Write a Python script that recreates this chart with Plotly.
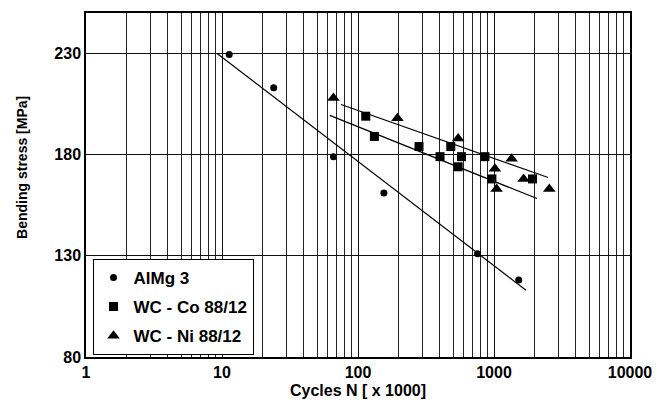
import plotly.graph_objects as go

# --- data ---
almg_n = [11.3, 24, 66, 155, 757, 1520]
almg_s = [229.5, 213, 179, 161, 131, 118]

co_n = [114, 132, 281, 401, 481, 545, 577, 857, 965, 1920]
co_s = [199, 189, 184, 179, 184, 174, 179, 179, 168, 168]

ni_n = [66, 195, 545, 1016, 1045, 1348, 1650, 2550]
ni_s = [208, 198, 188, 173, 163, 178, 168, 163]

# fitted lines (end points)
almg_fit_n = [9.2, 1720]
almg_fit_s = [230, 113]
co_fit_n = [62, 2070]
co_fit_s = [199.4, 158.3]
ni_fit_n = [75, 2500]
ni_fit_s = [204.8, 168.7]

x_ticks = [1, 10, 100, 1000, 10000]
y_ticks = [80, 130, 180, 230]

FONT = "Liberation Sans, Arial, sans-serif"

fig = go.Figure()

line_style = dict(color="black", width=1.2)
for fx, fy in [(almg_fit_n, almg_fit_s), (co_fit_n, co_fit_s), (ni_fit_n, ni_fit_s)]:
    fig.add_trace(go.Scatter(x=fx, y=fy, mode="lines", line=line_style,
                             showlegend=False, hoverinfo="skip"))

fig.add_trace(go.Scatter(x=almg_n, y=almg_s, mode="markers", name="AlMg 3",
                         legendgroup="a",
                         marker=dict(symbol="circle", size=7, color="black")))
fig.add_trace(go.Scatter(x=co_n, y=co_s, mode="markers", name="WC - Co 88/12",
                         legendgroup="b",
                         marker=dict(symbol="square", size=9, color="black")))
fig.add_trace(go.Scatter(x=ni_n, y=ni_s, mode="markers", name="WC - Ni 88/12",
                         legendgroup="c",
                         marker=dict(symbol="triangle-up", size=11, color="black")))

fig.update_layout(
    width=664, height=412,
    margin=dict(l=86, r=34, t=13, b=55),
    paper_bgcolor="white", plot_bgcolor="white",
    font=dict(family=FONT, color="black", size=16, weight="bold"),
    showlegend=True,
    legend=dict(x=0.012, y=0.285, xanchor="left", yanchor="top",
                bgcolor="white", bordercolor="black", borderwidth=1,
                font=dict(size=17, family=FONT, weight="bold"),
                tracegroupgap=4, itemwidth=30),
    xaxis=dict(type="log", range=[0, 4],
               tickvals=x_ticks, ticktext=[str(v) for v in x_ticks],
               showgrid=True, gridcolor="#111", gridwidth=1,
               minor=dict(dtick="D1", showgrid=True, gridcolor="#222", gridwidth=1, ticks=""),
               showline=True, linecolor="black", linewidth=1.5, mirror=True,
               ticks="", zeroline=False,
               title=dict(text="Cycles N [ x 1000]", standoff=5,
                          font=dict(size=16, family=FONT, weight="bold")),
               tickfont=dict(size=16, family=FONT, weight="bold")),
    yaxis=dict(range=[80, 250], tickvals=y_ticks,
               showgrid=True, gridcolor="#111", gridwidth=1,
               showline=True, linecolor="black", linewidth=1.5, mirror=True,
               ticks="", zeroline=False,
               tickfont=dict(size=16, family=FONT, weight="bold")),
    annotations=[dict(text="Bending stress [MPa]", textangle=-90,
                      xref="paper", yref="paper", x=-0.118, y=0.552,
                      xanchor="center", yanchor="middle", showarrow=False,
                      font=dict(size=14, family=FONT, weight="bold"))],
)

fig.write_html("out.html")
